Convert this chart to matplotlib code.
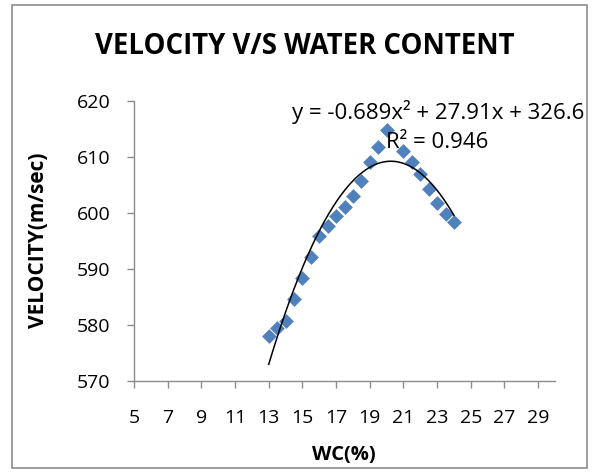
import numpy as np
import matplotlib
matplotlib.use('Agg')
from matplotlib import pyplot as plt
from matplotlib.patches import Rectangle

# water content (%) and measured velocity (m/sec)
wc = [13.0, 13.5, 14.0, 14.5, 15.0, 15.5, 16.0, 16.5, 17.0, 17.5, 18.0,
      18.5, 19.0, 19.5, 20.0, 21.0, 21.5, 22.0, 22.5, 23.0, 23.5, 24.0]
velocity = [578.1, 579.5, 580.8, 584.6, 588.4, 592.1, 595.9, 597.6, 599.4, 601.1, 603.0,
            605.8, 609.1, 611.8, 614.8, 611.1, 609.1, 607.0, 604.2, 601.7, 599.9, 598.4]

# polynomial trendline as printed on the chart
trend_coef = [-0.689, 27.91, 326.6]
trend_label = "y = -0.689x\u00b2 + 27.91x + 326.6"
r2_label = "R\u00b2 = 0.946"

xticks = list(range(5, 30, 2))
yticks = [570, 580, 590, 600, 610, 620]

plt.rcParams['font.family'] = ['Open Sans', 'DejaVu Sans']

fig = plt.figure(figsize=(5.93, 4.72), dpi=100)
fig.patch.set_facecolor('white')
fig.patches.append(Rectangle((12 / 593, 4 / 472), 575 / 593, 463 / 472,
                             transform=fig.transFigure, fill=False,
                             edgecolor='#8c8c8c', linewidth=1.2))

ax = fig.add_axes([134 / 593, 1 - 381 / 472, 421 / 593, 280 / 472])
ax.plot(wc, velocity, linestyle='none', marker='D', markersize=8,
        markerfacecolor='#4f81bd', markeredgecolor='white', markeredgewidth=0.6)

xs = np.linspace(wc[0], wc[-1], 200)
ax.plot(xs, np.polyval(trend_coef, xs), color='black', linewidth=1.1)

ax.set_xlim(5, 30)
ax.set_ylim(570, 620)
ax.set_xticks(xticks)
ax.set_yticks(yticks)
for side in ['top', 'right']:
    ax.spines[side].set_visible(False)
for side in ['left', 'bottom']:
    ax.spines[side].set_color('#8c8c8c')
    ax.spines[side].set_linewidth(1.0)
ax.tick_params(colors='#8c8c8c', labelcolor='black', labelsize=14, length=5, width=1.0)
ax.tick_params(axis='x', pad=15)
ax.tick_params(axis='y', pad=12)

# axis titles
fig.text(344 / 593, 1 - 455 / 472, 'WC(%)', ha='center', va='center',
         fontsize=14.5, fontweight='bold')
fig.text(39 / 593, 1 - 240 / 472, 'VELOCITY(m/sec)', ha='center', va='center',
         rotation=90, fontsize=15, fontweight='bold')

fig.text(305 / 593, 1 - 47 / 472, 'VELOCITY V/S WATER CONTENT', ha='center', va='center',
         fontsize=19.8, fontweight='bold')
fig.text(438 / 593, 1 - 112 / 472, trend_label, ha='center', va='center', fontsize=16)
fig.text(437 / 593, 1 - 142 / 472, r2_label, ha='center', va='center', fontsize=16)

fig.savefig('out.png', dpi=100)
